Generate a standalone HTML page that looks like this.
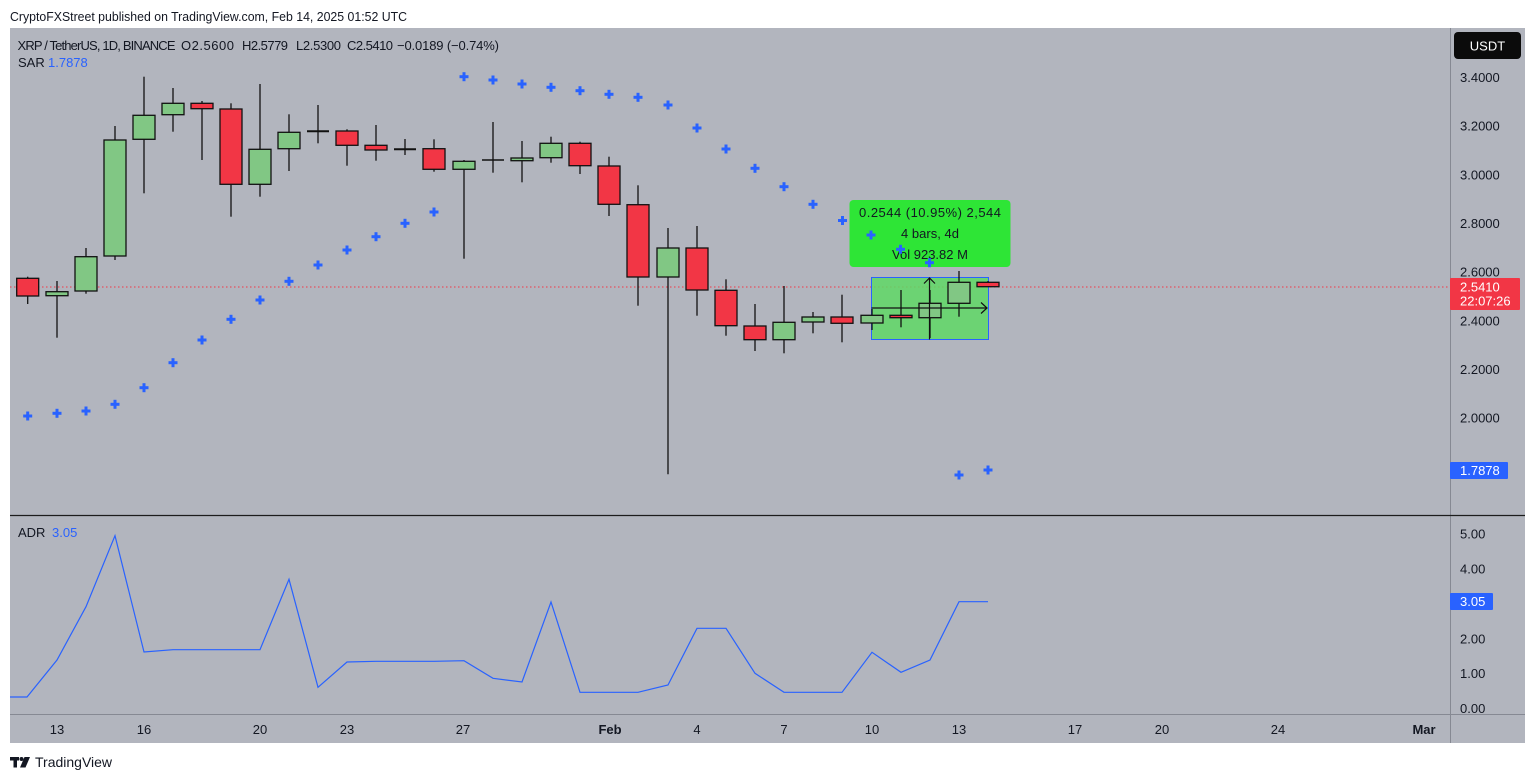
<!DOCTYPE html>
<html>
<head>
<meta charset="utf-8">
<style>
  html,body{margin:0;padding:0;background:#fff;}
  body{width:1536px;height:780px;overflow:hidden;}
  svg{display:block;}
  text{font-family:"Liberation Sans",sans-serif;}
</style>
</head>
<body>
<svg width="1536" height="780" viewBox="0 0 1536 780" xmlns="http://www.w3.org/2000/svg">
  <!-- header -->
  <text x="10" y="21" font-size="13" fill="#131722" textLength="397" lengthAdjust="spacingAndGlyphs">CryptoFXStreet published on TradingView.com, Feb 14, 2025 01:52 UTC</text>

  <!-- chart background -->
  <rect x="10" y="28" width="1515" height="715" fill="#b2b5be"/>

  <!-- separators -->
  <line x1="1450.5" y1="28" x2="1450.5" y2="743" stroke="#868993" stroke-width="1"/>
  <line x1="10" y1="515.5" x2="1525" y2="515.5" stroke="#1c1c1c" stroke-width="1.2"/>
  <line x1="10" y1="714.5" x2="1525" y2="714.5" stroke="#868993" stroke-width="1"/>

  <!-- legend -->
  <g font-size="13" fill="#131722">
    <text x="17.5" y="50" textLength="158" lengthAdjust="spacing">XRP / TetherUS, 1D, BINANCE</text>
    <text x="181" y="50" textLength="53" lengthAdjust="spacing">O2.5600</text>
    <text x="242" y="50" textLength="46" lengthAdjust="spacing">H2.5779</text>
    <text x="296" y="50" textLength="45" lengthAdjust="spacing">L2.5300</text>
    <text x="347" y="50" textLength="46" lengthAdjust="spacing">C2.5410</text>
    <text x="397" y="50" textLength="102" lengthAdjust="spacing">−0.0189 (−0.74%)</text>
    <text x="18" y="67">SAR</text>
    <text x="48" y="67" fill="#2962ff">1.7878</text>
    <text x="18" y="537">ADR</text>
    <text x="52" y="537" fill="#2962ff">3.05</text>
  </g>

  <!-- current price dotted line -->
  <line x1="10" y1="287" x2="1450" y2="287" stroke="#f23645" stroke-width="1" stroke-dasharray="1.5,2.5"/>

  <!-- measure box fill (behind candles) -->
  <rect x="871.5" y="277.5" width="117" height="62" fill="#5fd866" fill-opacity="0.85" stroke="#2962ff" stroke-width="1"/>

  <!-- candles -->
  <g stroke="#111" stroke-width="1.3">
    <line x1="27.7" y1="276.7" x2="27.7" y2="304"/>
    <line x1="57" y1="281" x2="57" y2="337.7"/>
    <line x1="86" y1="248" x2="86" y2="293.7"/>
    <line x1="115" y1="126" x2="115" y2="260"/>
    <line x1="144" y1="76.7" x2="144" y2="193.3"/>
    <line x1="173" y1="88" x2="173" y2="131.7"/>
    <line x1="202" y1="101" x2="202" y2="160"/>
    <line x1="231" y1="103.3" x2="231" y2="216.7"/>
    <line x1="260" y1="84" x2="260" y2="196.7"/>
    <line x1="289" y1="114.3" x2="289" y2="171"/>
    <line x1="318" y1="105" x2="318" y2="143.3"/>
    <line x1="347" y1="129.3" x2="347" y2="165.7"/>
    <line x1="376" y1="125" x2="376" y2="160.7"/>
    <line x1="405" y1="139" x2="405" y2="155"/>
    <line x1="434" y1="139.3" x2="434" y2="171.7"/>
    <line x1="464" y1="160" x2="464" y2="258.7"/>
    <line x1="493" y1="122" x2="493" y2="172.7"/>
    <line x1="522" y1="141" x2="522" y2="182.3"/>
    <line x1="551" y1="136.7" x2="551" y2="162.7"/>
    <line x1="580" y1="141.7" x2="580" y2="174"/>
    <line x1="609" y1="156.7" x2="609" y2="216"/>
    <line x1="638" y1="185.3" x2="638" y2="305.7"/>
    <line x1="668" y1="228" x2="668" y2="474.3"/>
    <line x1="697" y1="226" x2="697" y2="315.7"/>
    <line x1="726" y1="279.3" x2="726" y2="335.7"/>
    <line x1="755" y1="304" x2="755" y2="351"/>
    <line x1="784" y1="286" x2="784" y2="353.3"/>
    <line x1="813" y1="312" x2="813" y2="333.3"/>
    <line x1="842" y1="294.7" x2="842" y2="342.3"/>
    <line x1="872" y1="309" x2="872" y2="330"/>
    <line x1="901" y1="290" x2="901" y2="327.3"/>
    <line x1="930" y1="290" x2="930" y2="338"/>
    <line x1="959" y1="271" x2="959" y2="316.7"/>
    <line x1="988" y1="281" x2="988" y2="287"/>
    <line x1="307" y1="131.3" x2="329" y2="131.3" stroke-width="2"/>
    <line x1="394" y1="149.3" x2="416" y2="149.3" stroke-width="2"/>
    <line x1="482" y1="160" x2="504" y2="160" stroke-width="1.5"/>
  </g>
  <g stroke="#111" stroke-width="1.3">
    <rect x="16.7" y="278.3" width="22" height="17.7" fill="#f23645"/>
    <rect x="46" y="291.7" width="22" height="4" fill="#81c784"/>
    <rect x="75" y="256.7" width="22" height="34.3" fill="#81c784"/>
    <rect x="104" y="140" width="22" height="116" fill="#81c784"/>
    <rect x="133" y="115.3" width="22" height="24" fill="#81c784"/>
    <rect x="162" y="103.3" width="22" height="11.4" fill="#81c784"/>
    <rect x="191" y="103.3" width="22" height="5.4" fill="#f23645"/>
    <rect x="220" y="109" width="22" height="75.3" fill="#f23645"/>
    <rect x="249" y="149.3" width="22" height="35" fill="#81c784"/>
    <rect x="278" y="132.3" width="22" height="16.4" fill="#81c784"/>
    <rect x="336" y="131" width="22" height="14.3" fill="#f23645"/>
    <rect x="365" y="145.3" width="22" height="4.7" fill="#f23645"/>
    <rect x="423" y="148.7" width="22" height="20.6" fill="#f23645"/>
    <rect x="453" y="161.3" width="22" height="8" fill="#81c784"/>
    <rect x="511" y="158" width="22" height="2.7" fill="#81c784"/>
    <rect x="540" y="143.3" width="22" height="14.4" fill="#81c784"/>
    <rect x="569" y="143.3" width="22" height="22.4" fill="#f23645"/>
    <rect x="598" y="166" width="22" height="38.3" fill="#f23645"/>
    <rect x="627" y="204.7" width="22" height="72.3" fill="#f23645"/>
    <rect x="657" y="248" width="22" height="29" fill="#81c784"/>
    <rect x="686" y="248" width="22" height="42" fill="#f23645"/>
    <rect x="715" y="290.3" width="22" height="35.4" fill="#f23645"/>
    <rect x="744" y="326" width="22" height="13.7" fill="#f23645"/>
    <rect x="773" y="322.3" width="22" height="17.4" fill="#81c784"/>
    <rect x="802" y="317" width="22" height="5" fill="#81c784"/>
    <rect x="831" y="317" width="22" height="6.3" fill="#f23645"/>
    <rect x="861" y="315.3" width="22" height="7.7" fill="#81c784"/>
    <rect x="890" y="315.3" width="22" height="2.4" fill="#f23645"/>
    <rect x="919" y="303.3" width="22" height="14.4" fill="#81c784"/>
    <rect x="948" y="282.3" width="22" height="21" fill="#81c784"/>
    <rect x="977" y="282.3" width="22" height="4.4" fill="#f23645"/>
  </g>

  <!-- measure arrows -->
  <g stroke="#111" stroke-width="1.2" fill="none">
    <line x1="871.5" y1="308" x2="987" y2="308"/>
    <polyline points="981,302.5 987,308 981,313.5"/>
    <line x1="929.5" y1="339.5" x2="929.5" y2="278"/>
    <polyline points="924,283.5 929.5,278 935,283.5"/>
  </g>

  <!-- measure label -->
  <rect x="849.5" y="200" width="161" height="67" rx="4" fill="#2ee536"/>
  <g font-size="13" fill="#131722">
    <text x="859" y="217" textLength="142" lengthAdjust="spacing">0.2544 (10.95%) 2,544</text>
    <text x="901" y="238" textLength="58" lengthAdjust="spacing">4 bars, 4d</text>
    <text x="892" y="259" textLength="76" lengthAdjust="spacing">Vol 923.82 M</text>
  </g>

  <!-- SAR crosses -->
  <defs>
    <g id="c"><rect x="-4.5" y="-1.5" width="9" height="3" fill="#2962ff"/><rect x="-1.5" y="-4.5" width="3" height="9" fill="#2962ff"/></g>
  </defs>
  <use href="#c" x="27.7" y="416"/>
  <use href="#c" x="57" y="413.3"/>
  <use href="#c" x="86" y="411"/>
  <use href="#c" x="115" y="404.3"/>
  <use href="#c" x="144" y="387.7"/>
  <use href="#c" x="173" y="362.7"/>
  <use href="#c" x="202" y="340"/>
  <use href="#c" x="231" y="319.3"/>
  <use href="#c" x="260" y="300"/>
  <use href="#c" x="289" y="281.3"/>
  <use href="#c" x="318" y="265"/>
  <use href="#c" x="347" y="250"/>
  <use href="#c" x="376" y="236.7"/>
  <use href="#c" x="405" y="223.3"/>
  <use href="#c" x="434" y="212"/>
  <use href="#c" x="464" y="76.7"/>
  <use href="#c" x="493" y="80"/>
  <use href="#c" x="522" y="84"/>
  <use href="#c" x="551" y="87.3"/>
  <use href="#c" x="580" y="90.7"/>
  <use href="#c" x="609" y="94.3"/>
  <use href="#c" x="638" y="97.3"/>
  <use href="#c" x="668" y="105"/>
  <use href="#c" x="697" y="128"/>
  <use href="#c" x="726" y="149"/>
  <use href="#c" x="755" y="168.3"/>
  <use href="#c" x="784" y="186.7"/>
  <use href="#c" x="813" y="204.3"/>
  <use href="#c" x="842.5" y="220.5"/>
  <use href="#c" x="871" y="235"/>
  <use href="#c" x="900.5" y="249.3"/>
  <use href="#c" x="929.5" y="262.7"/>
  <use href="#c" x="959" y="475"/>
  <use href="#c" x="988" y="470"/>

  <!-- ADR line -->
  <polyline fill="none" stroke="#2962ff" stroke-width="1.2" points="10,697 27,697 57,660 86,606.7 115,535.7 144,652 173,649.7 202,649.7 231,649.7 260,649.7 289,579.3 318,687.3 347,662 376,661.3 405,661.3 434,661.3 464,660.7 493,678.3 522,682 551,602 580,692.3 609,692.3 638,692.3 668,685 697,628.3 726,628.3 755,673.3 784,692.3 813,692.3 842,692.3 872,652.3 901,672.3 930,660 959,601.7 988,601.7"/>

  <!-- price axis -->
  <rect x="1454" y="32" width="67" height="27" rx="4" fill="#0b0b0b"/>
  <text x="1487.5" y="50.5" font-size="13" fill="#fff" text-anchor="middle">USDT</text>
  <g font-size="13" fill="#131722">
    <text x="1460" y="82">3.4000</text>
    <text x="1460" y="130.7">3.2000</text>
    <text x="1460" y="179.3">3.0000</text>
    <text x="1460" y="228">2.8000</text>
    <text x="1460" y="276.7">2.6000</text>
    <text x="1460" y="325.3">2.4000</text>
    <text x="1460" y="374">2.2000</text>
    <text x="1460" y="422.7">2.0000</text>
    <text x="1460" y="538.7">5.00</text>
    <text x="1460" y="573.6">4.00</text>
    <text x="1460" y="643.3">2.00</text>
    <text x="1460" y="678.1">1.00</text>
    <text x="1460" y="713">0.00</text>
  </g>
  <rect x="1450" y="278" width="70" height="32" rx="1" fill="#f23645"/>
  <text x="1460" y="291.5" font-size="13" fill="#fff">2.5410</text>
  <text x="1460" y="305.5" font-size="13" fill="#fff">22:07:26</text>
  <rect x="1450" y="462" width="58" height="17" rx="1" fill="#2962ff"/>
  <text x="1460" y="475" font-size="13" fill="#fff">1.7878</text>
  <rect x="1450" y="593" width="43" height="17" rx="1" fill="#2962ff"/>
  <text x="1460" y="606" font-size="13" fill="#fff">3.05</text>

  <!-- time axis -->
  <g font-size="13" fill="#131722" text-anchor="middle">
    <text x="57" y="734">13</text>
    <text x="144" y="734">16</text>
    <text x="260" y="734">20</text>
    <text x="347" y="734">23</text>
    <text x="463" y="734">27</text>
    <text x="610" y="734" font-weight="bold">Feb</text>
    <text x="697" y="734">4</text>
    <text x="784" y="734">7</text>
    <text x="872" y="734">10</text>
    <text x="959" y="734">13</text>
    <text x="1075" y="734">17</text>
    <text x="1162" y="734">20</text>
    <text x="1278" y="734">24</text>
    <text x="1424" y="734" font-weight="bold">Mar</text>
  </g>

  <!-- TradingView logo -->
  <g fill="#131722">
    <rect x="10" y="757" width="9" height="3.5"/>
    <rect x="13.5" y="757" width="3.5" height="10.5"/>
    <circle cx="21.5" cy="759" r="2"/>
    <polygon points="24.5,757 30,757 25.5,767.5 20,767.5"/>
  </g>
  <text x="35" y="767" font-size="14" fill="#131722">TradingView</text>
</svg>
</body>
</html>
